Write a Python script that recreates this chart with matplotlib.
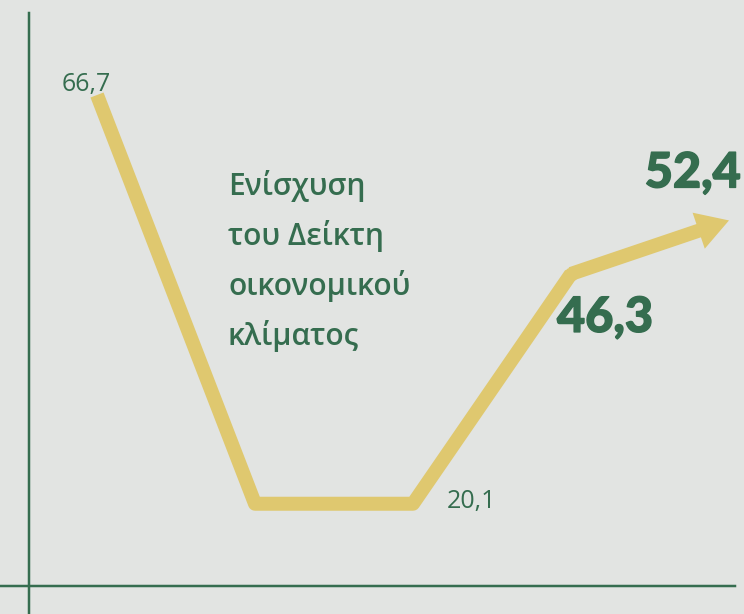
import matplotlib.pyplot as plt
from matplotlib.lines import Line2D
from matplotlib.patches import FancyArrowPatch
import matplotlib.patheffects as pe

# δεδομένα
x = [0, 1, 2, 3, 4]
values = [66.7, 20.1, 20.1, 46.3, 52.4]
labels = ["66,7", None, "20,1", "46,3", "52,4"]
title = "Ενίσχυση\nτου Δείκτη\nοικονομικού\nκλίματος"

bg = "#e2e4e2"
yellow = "#dfc86f"
green = "#356d4f"
px = 0.72  # 1 pixel σε points (dpi 100)

fig = plt.figure(figsize=(7.44, 6.14), dpi=100, facecolor=bg)
ax = fig.add_axes([0, 0, 1, 1])
ax.set_facecolor(bg)
ax.set_xlim(-0.614, 4.095)
ax.set_ylim(7.53, 77.53)
ax.axis("off")

# άξονες
fig.add_artist(Line2D([29 / 744, 29 / 744], [0, 1 - 13 / 614], color=green, lw=2.5 * px))
fig.add_artist(Line2D([0, 735 / 744], [1 - 586 / 614, 1 - 586 / 614], color=green, lw=2.5 * px))

# γραμμή
lw = 14 * px
ax.plot(x[:4], values[:4], color=yellow, lw=lw, solid_joinstyle="round",
        solid_capstyle="butt")
ax.plot(x[3], values[3], "o", ms=lw, color=yellow, mec="none")
arrow = FancyArrowPatch((x[3], values[3]), (x[4], values[4]),
                        arrowstyle="simple,head_length=%f,head_width=%f,tail_width=%f"
                        % (32 * px, 38 * px, 14 * px),
                        mutation_scale=1, color=yellow, lw=0,
                        shrinkA=0, shrinkB=0)
ax.add_patch(arrow)

# ετικέτες
light = dict(family=["Open Sans", "DejaVu Sans"], color=green, fontsize=18, weight="normal")
heavy = dict(family=["Lato", "DejaVu Sans"], color=green, fontsize=35, weight="black",
             path_effects=[pe.withStroke(linewidth=1.0, foreground=green)])

ax.annotate(labels[0], (x[0], values[0]), xytext=(-11 * px, 4 * px),
            textcoords="offset points", ha="center", va="baseline", **light)
ax.annotate(labels[2], (x[2], values[2]), xytext=(34 * px, -4 * px),
            textcoords="offset points", ha="left", va="baseline",
            stretch="semi-condensed", **light)
ax.annotate(labels[3], (x[3], values[3]), xytext=(-14 * px, -58 * px),
            textcoords="offset points", ha="left", va="baseline", **heavy)
ax.annotate(labels[4], (x[4], values[4]), xytext=(12 * px, 33 * px),
            textcoords="offset points", ha="right", va="baseline", **heavy)

ax.text(228 / 744, 1 - 170 / 614, title, transform=ax.transAxes, ha="left", va="top",
        family=["Open Sans", "DejaVu Sans"], color=green, fontsize=21.5, weight="semibold",
        linespacing=1.72)

fig.savefig("out.png", dpi=100, facecolor=bg)
